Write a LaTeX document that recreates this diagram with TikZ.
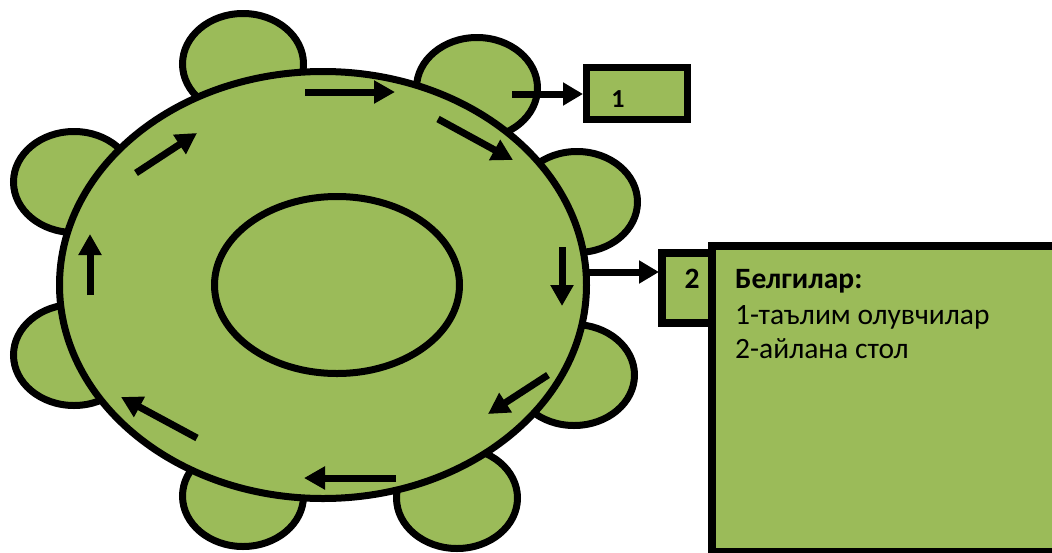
\documentclass[tikz,border=0pt]{standalone}
\usepackage{fontspec}
\setmainfont{Carlito}
\usetikzlibrary{shapes.geometric,arrows.meta}
\definecolor{olive}{HTML}{9BBB59}
\begin{document}
\begin{tikzpicture}[x=1pt,y=-1pt,
  seat/.style={ellipse,draw=black,fill=olive,line width=7pt,minimum width=121pt,minimum height=101pt,inner sep=0pt},
  tbl/.style={ellipse,draw=black,fill=olive,line width=7pt,inner sep=0pt},
  flow/.style={line width=7pt,-{Triangle[length=21pt,width=22pt]}},
  link/.style={line width=7pt,-{Triangle[length=20pt,width=22pt]}},
  lbl/.style={font=\fontsize{29.5}{34}\selectfont,inner sep=0pt},
  blbl/.style={font=\fontsize{29.5}{34}\selectfont\bfseries,inner sep=0pt}]
\useasboundingbox (0,0) rectangle (1052,552);
\clip (0,0) rectangle (1052,552);
% seats
\node[seat] (s1) at (243,64) {};
\node[seat] (s2) at (477,88) {};
\node[seat] (s3) at (577,202) {};
\node[seat] (s4) at (574,375) {};
\node[seat] (s5) at (457,498) {};
\node[seat] (s6) at (243,496) {};
\node[seat] (s7) at (74,355) {};
\node[seat] (s8) at (74,182) {};
% table
\node[tbl,minimum width=527pt,minimum height=427pt] (big) at (323,285) {};
\node[tbl,minimum width=245pt,minimum height=177pt] (inner) at (337,285) {};
% circulation arrows
\coordinate (a1s) at (305,92); \coordinate (a1e) at (395,92);
\coordinate (a2s) at (438,119); \coordinate (a2e) at (513,160);
\coordinate (a3s) at (562,247); \coordinate (a3e) at (562,306);
\coordinate (a4s) at (548,375); \coordinate (a4e) at (488,414);
\coordinate (a5s) at (396,478); \coordinate (a5e) at (304,478);
\coordinate (a6s) at (197,438); \coordinate (a6e) at (121,397);
\coordinate (a7s) at (90,295); \coordinate (a7e) at (90,234);
\coordinate (a8s) at (136,173); \coordinate (a8e) at (197,133);
\draw[flow] (a1s) -- (a1e);
\draw[flow] (a2s) -- (a2e);
\draw[flow] (a3s) -- (a3e);
\draw[flow] (a4s) -- (a4e);
\draw[flow] (a5s) -- (a5e);
\draw[flow] (a6s) -- (a6e);
\draw[flow] (a7s) -- (a7e);
\draw[flow] (a8s) -- (a8e);
% legend boxes
\draw[line width=8pt,fill=olive] (711.5,246) rectangle (1062,551.5);
\draw[line width=8pt,fill=olive] (662,253) rectangle (711.5,323);
\draw[line width=7pt,fill=olive] (586.5,67.5) rectangle (687.5,119.5);
\node[blbl,anchor=base,font=\fontsize{26}{30}\selectfont\bfseries] (n1) at (618,107) {1};
\node[blbl,anchor=base] (n2) at (692,288) {2};
\node[blbl,anchor=base west] (t1) at (735,288) {Белгилар:};
\node[lbl,anchor=base west] (t2) at (735,324) {1-таълим олувчилар};
\node[lbl,anchor=base west] (t3) at (735,358) {2-айлана стол};
% connectors
\coordinate (c1) at (512,94);
\coordinate (b1) at (583,94);
\draw[link] (c1) -- (b1);
\coordinate (c2) at (588,272);
\coordinate (b2) at (659,272);
\draw[link] (c2) -- (b2);
\end{tikzpicture}
\end{document}
